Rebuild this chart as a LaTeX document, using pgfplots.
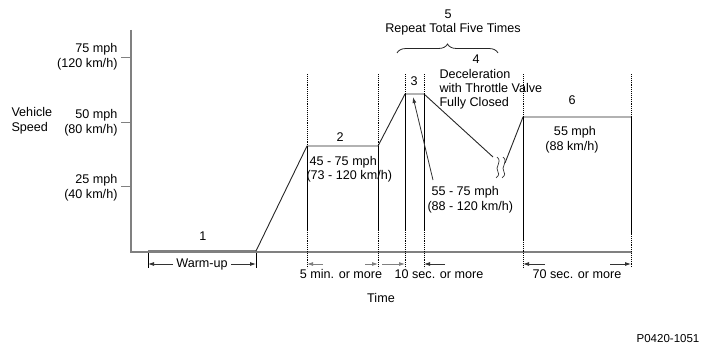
\documentclass[border=0pt]{standalone}
\usepackage{pgfplots}
\pgfplotsset{compat=1.18}
\usepackage{fontspec}
\setmainfont{Liberation Sans}
\usetikzlibrary{decorations.pathreplacing,arrows.meta}
\begin{document}
\begin{tikzpicture}[font=\fontsize{12.6}{15}\selectfont,
  arr/.style={-{Latex[length=6pt,width=4pt]}, line width=0.8pt, black!80},
  guide/.style={densely dotted, line width=0.9pt, black},
  solidg/.style={line width=0.9pt, black}]
\begin{axis}[scale only axis, width=703pt, height=353pt,
  xmin=0, xmax=703, ymin=0, ymax=353, y dir=reverse,
  hide axis, clip=false]
\path (axis cs:0,0) rectangle (axis cs:703,353);
% axes
\addplot[gray, line width=1.2pt] coordinates {(131,30) (131,252) (632,252)};
\addplot[gray, line width=1pt] coordinates {(121,57) (131,57)};
\addplot[gray, line width=1pt] coordinates {(121,122) (131,122)};
\addplot[gray, line width=1pt] coordinates {(121,186) (131,186)};
% warm-up
\addplot[gray, line width=2pt] coordinates {(148,250.5) (256,250.5)};
% speed profile
\addplot[black!85, line width=0.9pt] coordinates {(256,251) (307,146) (378,146) (405,94) (424,94) (493,157)};
\addplot[black!85, line width=0.9pt] coordinates {(505,163) (523,117) (631,117)};
% guide lines
\addplot[guide] coordinates {(307,74) (307,146)};
\addplot[solidg] coordinates {(307,146) (307,230)};
\addplot[guide] coordinates {(307,230) (307,268)};
\addplot[guide] coordinates {(378,74) (378,146)};
\addplot[solidg] coordinates {(378,146) (378,230)};
\addplot[guide] coordinates {(378,230) (378,268)};
\addplot[guide] coordinates {(405,74) (405,94)};
\addplot[solidg] coordinates {(405,94) (405,230)};
\addplot[guide] coordinates {(405,230) (405,268)};
\addplot[guide] coordinates {(424,74) (424,94)};
\addplot[solidg] coordinates {(424,94) (424,230)};
\addplot[guide] coordinates {(424,230) (424,268)};
\addplot[guide] coordinates {(523,74) (523,117)};
\addplot[solidg] coordinates {(523,117) (523,240)};
\addplot[guide] coordinates {(523,240) (523,268)};
\addplot[guide] coordinates {(631,74) (631,117)};
\addplot[solidg] coordinates {(631,117) (631,234)};
\addplot[guide] coordinates {(631,234) (631,268)};
% squiggles
\draw[line width=0.7pt, black!80] (axis cs:497,157) .. controls (axis cs:503,162) and (axis cs:494,167) .. (axis cs:498,172) .. controls (axis cs:500,175) and (axis cs:497,177) .. (axis cs:496,178);
\draw[line width=0.7pt, black!80] (axis cs:503,157) .. controls (axis cs:509,162) and (axis cs:500,167) .. (axis cs:504,172) .. controls (axis cs:506,175) and (axis cs:503,177) .. (axis cs:502,178);
% brace
\draw[line width=0.8pt, black!85, decorate, decoration={brace, amplitude=9pt}] (axis cs:397,53) -- (axis cs:498,53);
% pointer arrow
\draw[arr] (axis cs:433,180) -- (axis cs:413,97);
% warm-up dimension
\draw[line width=0.9pt] (axis cs:148,253) -- (axis cs:148,268);
\draw[line width=0.9pt] (axis cs:256,253) -- (axis cs:256,268);
\draw[arr] (axis cs:173,264) -- (axis cs:148,264);
\draw[arr] (axis cs:231,264) -- (axis cs:256,264);
% 5 min
\draw[arr, gray] (axis cs:323,264) -- (axis cs:307,264);
\draw[arr, gray] (axis cs:365,264) -- (axis cs:378,264);
% 10 sec
\draw[arr, gray] (axis cs:382,264) -- (axis cs:405,264);
\draw[arr] (axis cs:445,264) -- (axis cs:424,264);
% 70 sec
\draw[arr] (axis cs:545,264) -- (axis cs:523,264);
\draw[arr] (axis cs:610,264) -- (axis cs:631,264);
% texts
\node[align=left, anchor=west] at (axis cs:8,121) {Vehicle\\Speed};
\node[align=right, anchor=east] at (axis cs:121,57) {75 mph\\(120 km/h)};
\node[align=right, anchor=east] at (axis cs:121,123) {50 mph\\(80 km/h)};
\node[align=right, anchor=east] at (axis cs:121,188) {25 mph\\(40 km/h)};
\node at (axis cs:203,236) {1};
\node at (axis cs:340,137) {2};
\node at (axis cs:414,81) {3};
\node at (axis cs:476,59) {4};
\node at (axis cs:448,14) {5};
\node at (axis cs:453,29) {Repeat Total Five Times};
\node at (axis cs:572,100) {6};
\node[anchor=west] at (axis cs:436,74) {Deceleration};
\node[anchor=west] at (axis cs:436,88) {with Throttle Valve};
\node[anchor=west] at (axis cs:436,103) {Fully Closed};
\node[anchor=west] at (axis cs:306,162) {45 - 75 mph};
\node[anchor=west] at (axis cs:303,176) {(73 - 120 km/h)};
\node[anchor=west] at (axis cs:428,192) {55 - 75 mph};
\node[anchor=west] at (axis cs:424,207) {(88 - 120 km/h)};
\node at (axis cs:575,132) {55 mph};
\node at (axis cs:572,147) {(88 km/h)};
\node at (axis cs:202,264) {Warm-up};
\node at (axis cs:341,274) {5 min. or more};
\node at (axis cs:439,274) {10 sec. or more};
\node at (axis cs:577,274) {70 sec. or more};
\node at (axis cs:381,298) {Time};
\node[font=\fontsize{11.5}{14}\selectfont] at (axis cs:668,339) {P0420-1051};
\end{axis}
\end{tikzpicture}
\end{document}
